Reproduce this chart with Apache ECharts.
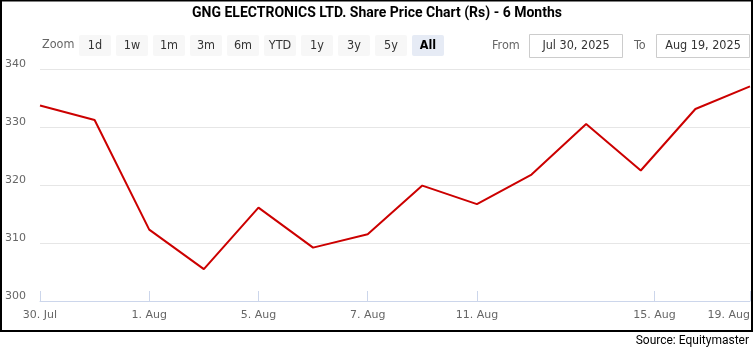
<!DOCTYPE html>
<html>
<head>
<meta charset="utf-8">
<script src="https://cdn.jsdelivr.net/npm/echarts@6/dist/echarts.min.js"></script>
<style>html,body{margin:0;padding:0;background:#fff}#c{width:754px;height:352px}</style>
</head>
<body>
<div id="c"></div>
<script>
// Trading days (ordinal positions 0..13)
const dates = ['Jul 30','Jul 31','Aug 1','Aug 4','Aug 5','Aug 6','Aug 7','Aug 8','Aug 11','Aug 12','Aug 13','Aug 14','Aug 18','Aug 19'];
const prices = [333.7, 331.2, 312.3, 305.5, 316.1, 309.2, 311.5, 319.9, 316.7, 321.8, 330.5, 322.5, 333.1, 337.0];
// X tick positions (ordinal index; 15 Aug falls between 14 Aug and 18 Aug)
const xTickPositions = [0, 2, 4, 6, 8, 11.25, 13];
const xTickLabels = ['30. Jul', '1. Aug', '5. Aug', '7. Aug', '11. Aug', '15. Aug', '19. Aug'];
const yTicks = [300, 310, 320, 330, 340];
const zoomButtons = ['1d','1w','1m','3m','6m','YTD','1y','3y','5y','All'];
const fromDate = 'Jul 30, 2025';
const toDate = 'Aug 19, 2025';

const chart = echarts.init(document.getElementById('c'), null, {renderer: 'canvas'});

const btnX = [79, 116, 153, 190, 227, 264, 301, 338, 375, 412];
const graphics = [];
graphics.push({type:'rect', shape:{x:1, y:0.5, width:751, height:330.5}, style:{fill:'none', stroke:'#000', lineWidth:2}, silent:true, z:100});
graphics.push({type:'text', left:42, top:38, style:{text:'Zoom', fill:'#666', font:'12.5px "DejaVu Sans Condensed", "DejaVu Sans", sans-serif'}});
zoomButtons.forEach((b, i) => {
  const sel = b === 'All';
  graphics.push({type:'rect', shape:{x:btnX[i], y:35, width:32, height:21, r:2}, style:{fill: sel ? '#e6ebf5' : '#f7f7f7', stroke:'none'}});
  graphics.push({type:'text', x:btnX[i] + 16, y:45.5, style:{text:b, fill: sel ? '#000' : '#333', align:'center', verticalAlign:'middle', font:(sel ? 'bold ' : '') + '12.5px "DejaVu Sans Condensed", "DejaVu Sans", sans-serif'}});
});
graphics.push({type:'text', x:492, y:45.5, style:{text:'From', fill:'#666', verticalAlign:'middle', font:'12.5px "DejaVu Sans Condensed", "DejaVu Sans", sans-serif'}});
graphics.push({type:'rect', shape:{x:529.5, y:34.5, width:93, height:23}, style:{fill:'#fff', stroke:'#cccccc', lineWidth:1}});
graphics.push({type:'text', x:576, y:45.5, style:{text:fromDate, fill:'#333', align:'center', verticalAlign:'middle', font:'12.5px "DejaVu Sans Condensed", "DejaVu Sans", sans-serif'}});
graphics.push({type:'text', x:634, y:45.5, style:{text:'To', fill:'#666', verticalAlign:'middle', font:'12.5px "DejaVu Sans Condensed", "DejaVu Sans", sans-serif'}});
graphics.push({type:'rect', shape:{x:656.5, y:34.5, width:93, height:23}, style:{fill:'#fff', stroke:'#cccccc', lineWidth:1}});
graphics.push({type:'text', x:703, y:45.5, style:{text:toDate, fill:'#333', align:'center', verticalAlign:'middle', font:'12.5px "DejaVu Sans Condensed", "DejaVu Sans", sans-serif'}});
graphics.push({type:'text', right:5, top:335, style:{text:'Source: Equitymaster', fill:'#000', font:'12px Roboto, sans-serif'}});

chart.setOption({
  animation: false,
  backgroundColor: '#fff',
  title: {
    text: 'GNG ELECTRONICS LTD. Share Price Chart (Rs) - 6 Months',
    left: 'center', top: 1,
    textStyle: {fontFamily: 'Roboto', fontWeight: 'bold', fontSize: 14, color: '#000'}
  },
  graphic: graphics,
  grid: {left: 40, right: 4, top: 69, bottom: 51, containLabel: false},
  xAxis: {
    type: 'value', min: 0, max: dates.length - 1,
    splitLine: {show: false},
    axisLine: {show: true, lineStyle: {color: '#ccd6eb', width: 1}},
    axisTick: {show: true, inside: true, length: 10, lineStyle: {color: '#ccd6eb'}, customValues: xTickPositions},
    axisLabel: {
      customValues: xTickPositions,
      formatter: v => { const i = xTickPositions.findIndex(p => Math.abs(p - v) < 1e-6); return i >= 0 ? xTickLabels[i] : ''; },
      color: '#666', fontSize: 11, fontFamily: '"DejaVu Sans", sans-serif', margin: 9,
      alignMaxLabel: 'right'
    }
  },
  yAxis: {
    type: 'value', min: yTicks[0], max: yTicks[yTicks.length - 1], interval: 10,
    axisLine: {show: false}, axisTick: {show: false},
    splitLine: {lineStyle: {color: '#e6e6e6', width: 1}},
    axisLabel: {color: '#666', fontSize: 11, fontFamily: '"DejaVu Sans", sans-serif', align: 'left', margin: 35, verticalAlign: 'bottom', lineHeight: 10}
  },
  series: [{
    type: 'line',
    data: prices.map((p, i) => [i, p]),
    symbol: 'none',
    lineStyle: {color: '#cc0000', width: 2},
    itemStyle: {color: '#cc0000'}
  }]
});
</script>
</body>
</html>
